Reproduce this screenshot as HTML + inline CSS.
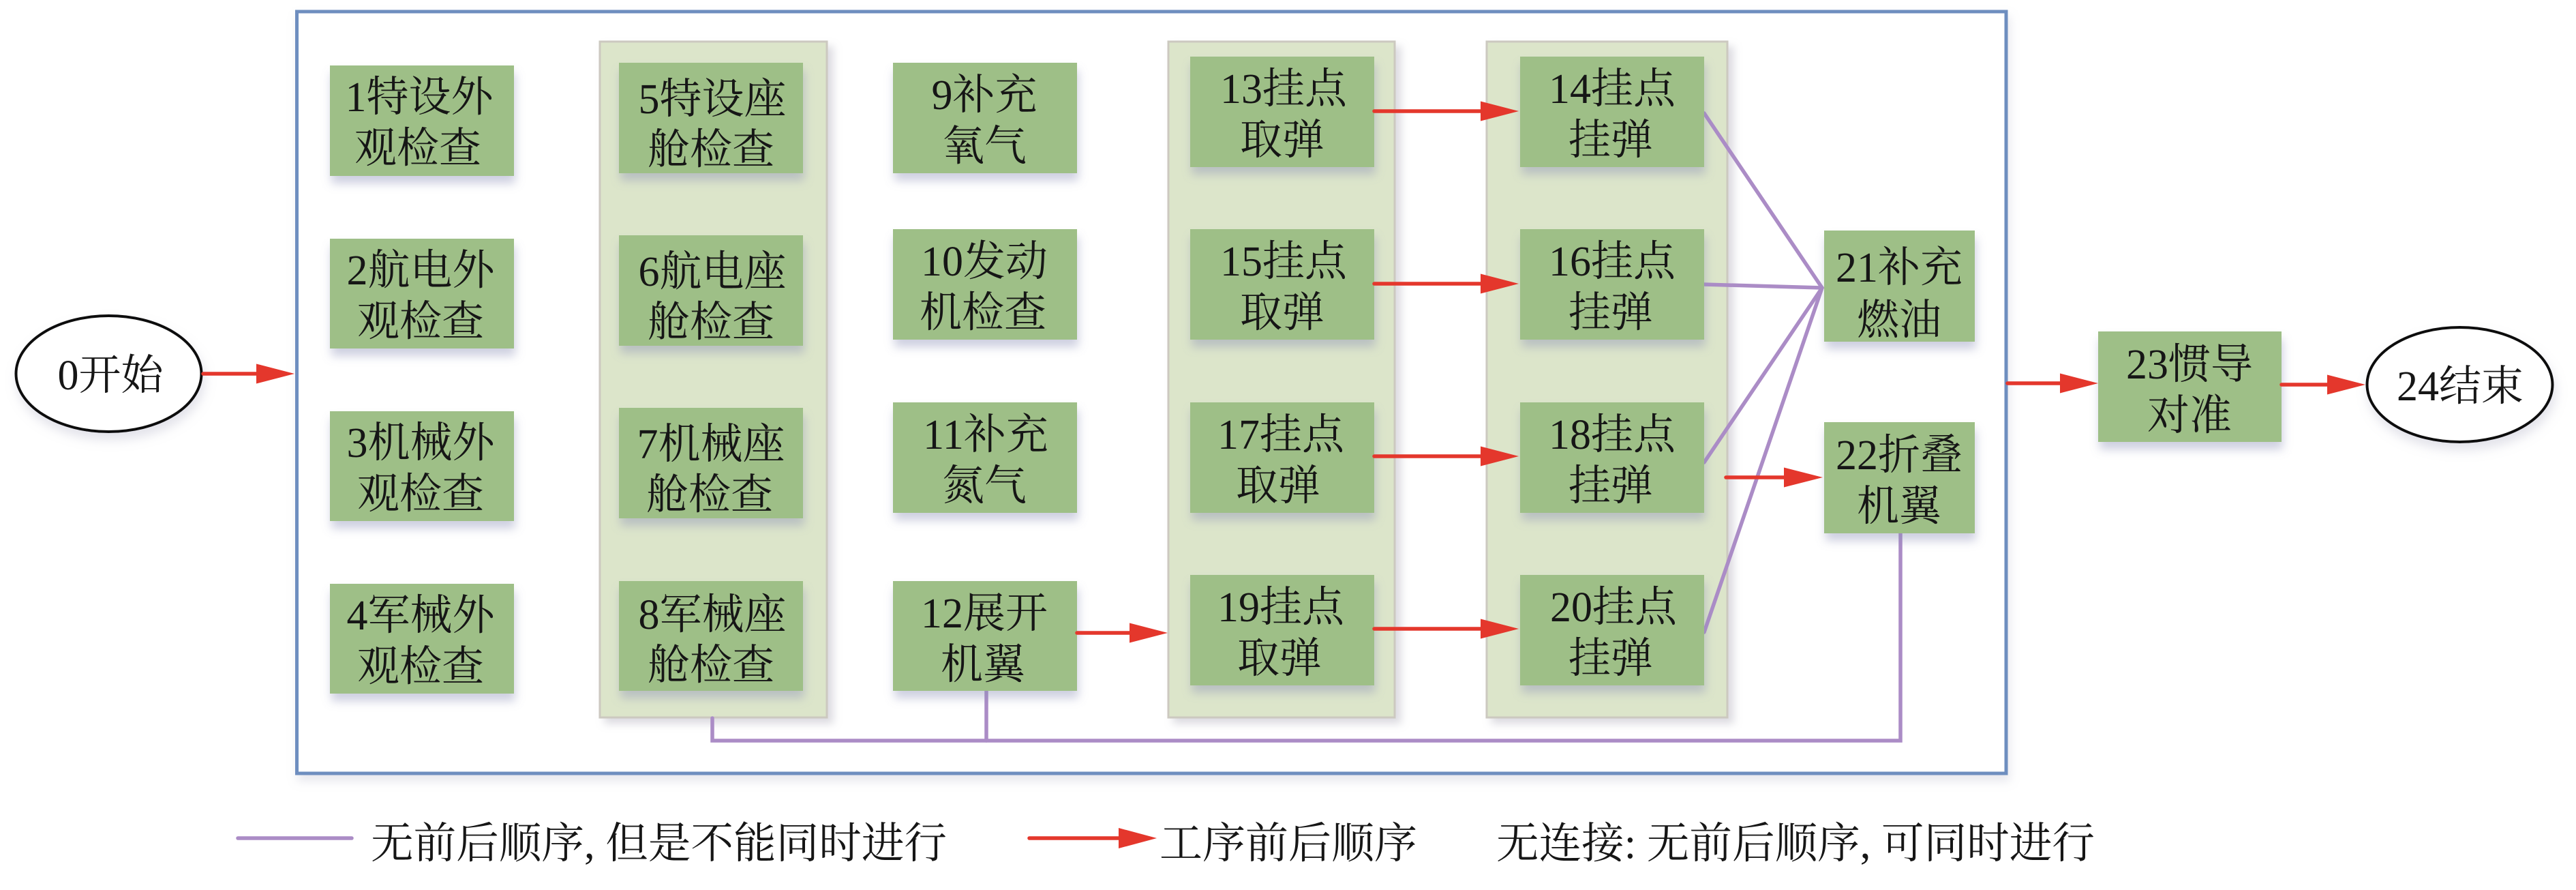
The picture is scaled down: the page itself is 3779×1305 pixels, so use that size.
<!DOCTYPE html>
<html>
<head>
<meta charset="utf-8">
<style>
html,body{margin:0;padding:0;background:#ffffff;}
svg{display:block;}
text{font-family:"Liberation Serif","Noto Serif CJK SC","Noto Serif CJK SC",serif;fill:#161616;}
</style>
</head>
<body>
<svg width="3779" height="1305" viewBox="0 0 3779 1305" xmlns="http://www.w3.org/2000/svg">
<defs>
<filter id="shb" x="-20%" y="-20%" width="150%" height="170%">
<feDropShadow dx="2" dy="11" stdDeviation="7" flood-color="#8a8fb5" flood-opacity="0.42"/>
</filter>
<filter id="shp" x="-10%" y="-5%" width="125%" height="115%">
<feDropShadow dx="8" dy="8" stdDeviation="6" flood-color="#9a98a8" flood-opacity="0.35"/>
</filter>
<filter id="sho" x="-5%" y="-5%" width="110%" height="115%">
<feDropShadow dx="3" dy="9" stdDeviation="7" flood-color="#a0a0b8" flood-opacity="0.25"/>
</filter>
<filter id="she" x="-20%" y="-20%" width="150%" height="170%">
<feDropShadow dx="3" dy="10" stdDeviation="8" flood-color="#a0a0b8" flood-opacity="0.3"/>
</filter>
</defs>

<!-- outer box -->
<rect x="435.5" y="17" width="2507.5" height="1117" fill="#ffffff" stroke="#6e8ebf" stroke-width="5" filter="url(#sho)"/>

<!-- panels -->
<rect x="880" y="61" width="333" height="991" fill="#dce5ca" stroke="#ccc9c0" stroke-width="3" filter="url(#shp)"/>
<rect x="1714" y="61" width="332" height="991" fill="#dce5ca" stroke="#ccc9c0" stroke-width="3" filter="url(#shp)"/>
<rect x="2181" y="61" width="353" height="991" fill="#dce5ca" stroke="#ccc9c0" stroke-width="3" filter="url(#shp)"/>

<!-- purple lines -->
<g stroke="#ab8cc6" stroke-width="5.5" fill="none" stroke-linecap="round" stroke-linejoin="miter">
<polyline points="1045,1053 1045,1086 2788,1086 2788,782"/>
<line x1="1447" y1="1013" x2="1447" y2="1086"/>
<line x1="2500" y1="166" x2="2673" y2="422"/>
<line x1="2499" y1="417" x2="2673" y2="422"/>
<line x1="2500" y1="678" x2="2673" y2="422"/>
<line x1="2500" y1="927" x2="2673" y2="422"/>
</g>

<!-- boxes -->
<g fill="#9ebf87" filter="url(#shb)">
<rect x="484" y="96" width="270" height="162"/>
<rect x="484" y="350" width="270" height="161"/>
<rect x="484" y="603" width="270" height="161"/>
<rect x="484" y="856" width="270" height="161"/>

<rect x="908" y="92" width="270" height="162"/>
<rect x="908" y="345" width="270" height="162"/>
<rect x="908" y="598" width="270" height="162"/>
<rect x="908" y="852" width="270" height="161"/>

<rect x="1310" y="92" width="270" height="162"/>
<rect x="1310" y="336" width="270" height="162"/>
<rect x="1310" y="590" width="270" height="162"/>
<rect x="1310" y="852" width="270" height="161"/>

<rect x="1746" y="83" width="270" height="162"/>
<rect x="1746" y="336" width="270" height="162"/>
<rect x="1746" y="590" width="270" height="162"/>
<rect x="1746" y="843" width="270" height="162"/>

<rect x="2230" y="83" width="270" height="162"/>
<rect x="2230" y="336" width="270" height="162"/>
<rect x="2230" y="590" width="270" height="162"/>
<rect x="2230" y="843" width="270" height="162"/>

<rect x="2676" y="338" width="221" height="163"/>
<rect x="2676" y="619" width="221" height="163"/>

<rect x="3078" y="486" width="269" height="162"/>
</g>

<!-- ellipses -->
<ellipse cx="159.5" cy="548" rx="136" ry="85" fill="#ffffff" stroke="#111111" stroke-width="4" filter="url(#she)"/>
<ellipse cx="3608.5" cy="564" rx="136" ry="84" fill="#ffffff" stroke="#111111" stroke-width="4" filter="url(#she)"/>

<!-- red arrows -->
<g stroke="#e4372c" stroke-width="5.5" stroke-linecap="round" fill="none">
<line x1="298" y1="548" x2="380" y2="548"/>
<line x1="1580" y1="928" x2="1660" y2="928"/>
<line x1="2016" y1="163" x2="2175" y2="163"/>
<line x1="2016" y1="416" x2="2175" y2="416"/>
<line x1="2016" y1="669" x2="2175" y2="669"/>
<line x1="2016" y1="922" x2="2175" y2="922"/>
<line x1="2532" y1="700" x2="2620" y2="700"/>
<line x1="2945" y1="562" x2="3025" y2="562"/>
<line x1="3347" y1="564" x2="3417" y2="564"/>
<line x1="1510" y1="1229" x2="1645" y2="1229"/>
</g>
<g fill="#e4372c">
<polygon points="376,533.5 432,548 376,562.5"/>
<polygon points="1657,913.5 1713,928 1657,942.5"/>
<polygon points="2172,148.5 2228,163 2172,177.5"/>
<polygon points="2172,401.5 2228,416 2172,430.5"/>
<polygon points="2172,654.5 2228,669 2172,683.5"/>
<polygon points="2172,907.5 2228,922 2172,936.5"/>
<polygon points="2617,685.5 2674,700 2617,714.5"/>
<polygon points="3022,547.5 3078,562 3022,576.5"/>
<polygon points="3414,549.5 3470,564 3414,578.5"/>
<polygon points="1641,1214 1697,1229 1641,1244"/>
</g>

<!-- box texts -->
<g font-size="62" text-anchor="middle">
<text x="615" y="163">1特设外</text><text x="613" y="238">观检查</text>
<text x="617" y="417">2航电外</text><text x="617" y="492">观检查</text>
<text x="617" y="670">3机械外</text><text x="617" y="745">观检查</text>
<text x="617" y="923">4军械外</text><text x="617" y="998">观检查</text>

<text x="1045" y="166">5特设座</text><text x="1043" y="240">舱检查</text>
<text x="1045" y="419">6航电座</text><text x="1043" y="493">舱检查</text>
<text x="1043" y="672">7机械座</text><text x="1041" y="746">舱检查</text>
<text x="1045" y="922">8军械座</text><text x="1043" y="996">舱检查</text>

<text x="1444" y="160">9补充</text><text x="1444" y="235">氧气</text>
<text x="1444" y="404">10发动</text><text x="1442" y="479">机检查</text>
<text x="1446" y="658">11补充</text><text x="1444" y="733">氮气</text>
<text x="1444" y="920">12展开</text><text x="1442" y="995">机翼</text>

<text x="1883" y="151">13挂点</text><text x="1881" y="226">取弹</text>
<text x="1883" y="404">15挂点</text><text x="1881" y="479">取弹</text>
<text x="1879" y="658">17挂点</text><text x="1875" y="733">取弹</text>
<text x="1879" y="911">19挂点</text><text x="1877" y="986">取弹</text>

<text x="2365" y="151">14挂点</text><text x="2363" y="226">挂弹</text>
<text x="2365" y="404">16挂点</text><text x="2363" y="479">挂弹</text>
<text x="2365" y="658">18挂点</text><text x="2363" y="733">挂弹</text>
<text x="2367" y="911">20挂点</text><text x="2363" y="986">挂弹</text>

<text x="2786" y="413">21补充</text><text x="2786" y="490">燃油</text>
<text x="2786" y="688">22折叠</text><text x="2786" y="763">机翼</text>

<text x="3212" y="555">23惯导</text><text x="3212" y="630">对准</text>

<text x="162" y="571">0开始</text>
<text x="3609" y="587">24结束</text>
</g>

<!-- legend -->
<line x1="349" y1="1229" x2="516" y2="1229" stroke="#ab8cc6" stroke-width="5.5" stroke-linecap="round"/>
<g font-size="63">
<text x="544" y="1258" textLength="845" lengthAdjust="spacingAndGlyphs">无前后顺序, 但是不能同时进行</text>
<text x="1701" y="1258" textLength="378" lengthAdjust="spacingAndGlyphs">工序前后顺序</text>
<text x="2195" y="1258" textLength="878" lengthAdjust="spacingAndGlyphs">无连接: 无前后顺序, 可同时进行</text>
</g>
</svg>
</body>
</html>
